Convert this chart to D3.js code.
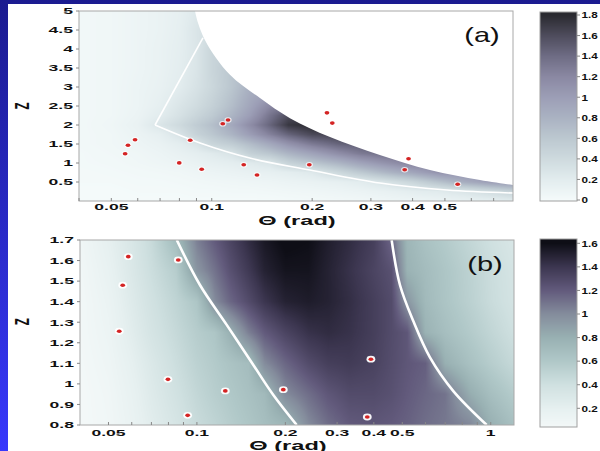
<!DOCTYPE html>
<html><head><meta charset="utf-8">
<script src="https://cdn.jsdelivr.net/npm/d3@7"></script>
<style>body{margin:0;background:#fff}svg{display:block}</style>
</head><body>
<svg id="chart" width="600" height="451"></svg>
<script>
// ---------- panel (a) ----------
const thetaA = [0.04,0.05,0.06,0.07,0.08,0.09,0.1,0.115,0.13,0.15,0.17,0.2,0.24,0.28,0.33,0.4,0.48,0.57,0.68,0.8];
const zA = [5,4.5,4,3.5,3,2.5,2.25,2,1.75,1.5,1.25,1,0.75,0.5,0.25,0];
const fieldA = [
  [0.03,0.05,0.08,0.11,0.15,0.24,0.32,0.38,0.42,0.45,0.50,0.55,0.60,0.60,0.60,0.60,0.60,0.60,0.60,0.60],
  [0.03,0.05,0.08,0.11,0.16,0.28,0.36,0.42,0.46,0.50,0.55,0.60,0.60,0.60,0.60,0.60,0.60,0.60,0.60,0.60],
  [0.03,0.05,0.08,0.12,0.17,0.27,0.45,0.52,0.55,0.58,0.60,0.60,0.60,0.60,0.60,0.60,0.60,0.60,0.60,0.60],
  [0.03,0.05,0.08,0.12,0.18,0.28,0.45,0.62,0.66,0.68,0.70,0.70,0.70,0.70,0.70,0.70,0.70,0.70,0.70,0.70],
  [0.03,0.05,0.09,0.13,0.20,0.31,0.43,0.62,0.82,0.88,0.90,0.90,0.90,0.90,0.90,0.90,0.90,0.90,0.90,0.90],
  [0.03,0.05,0.09,0.16,0.28,0.38,0.50,0.70,0.92,1.20,1.30,1.30,1.30,1.30,1.30,1.30,1.30,1.30,1.30,1.30],
  [0.03,0.05,0.10,0.20,0.32,0.45,0.57,0.78,1.00,1.35,1.60,1.60,1.60,1.60,1.60,1.60,1.60,1.60,1.60,1.60],
  [0.03,0.06,0.12,0.28,0.40,0.55,0.68,0.90,1.15,1.45,1.72,1.80,1.80,1.80,1.80,1.80,1.80,1.80,1.80,1.80],
  [0.03,0.05,0.10,0.16,0.30,0.48,0.60,0.78,1.00,1.25,1.45,1.62,1.65,1.65,1.65,1.65,1.65,1.65,1.65,1.65],
  [0.03,0.05,0.08,0.12,0.18,0.28,0.45,0.55,0.70,0.90,1.10,1.30,1.45,1.50,1.50,1.50,1.50,1.50,1.50,1.50],
  [0.02,0.04,0.06,0.09,0.13,0.17,0.22,0.30,0.50,0.62,0.78,0.95,1.15,1.30,1.38,1.38,1.38,1.38,1.38,1.38],
  [0.02,0.03,0.05,0.07,0.09,0.12,0.15,0.18,0.22,0.28,0.48,0.62,0.78,0.95,1.10,1.25,1.25,1.25,1.25,1.25],
  [0.01,0.02,0.03,0.04,0.05,0.07,0.09,0.11,0.13,0.15,0.18,0.24,0.42,0.58,0.75,0.92,1.10,1.12,1.12,1.12],
  [0.01,0.01,0.02,0.02,0.03,0.04,0.05,0.06,0.07,0.08,0.10,0.12,0.15,0.20,0.30,0.45,0.65,0.85,1.00,1.05],
  [0.00,0.00,0.01,0.01,0.01,0.02,0.02,0.03,0.03,0.04,0.05,0.06,0.08,0.10,0.13,0.18,0.22,0.28,0.38,0.50],
  [0.00,0.00,0.00,0.00,0.00,0.00,0.00,0.00,0.00,0.00,0.01,0.02,0.03,0.04,0.06,0.08,0.10,0.13,0.16,0.20]
];
// upper limit of the computed region (blank above it)
const edgeA = [[0.0891,5.0],[0.0954,4.24],[0.1134,3.32],[0.1395,2.71],[0.1716,2.18],[0.2262,1.684],[0.319,1.21],[0.451,0.816],[0.637,0.553],[0.8,0.42]];
const contourA = [[0.0676,2.0],[0.0922,1.526],[0.130,1.13],[0.197,0.816],[0.319,0.474],[0.507,0.289],[0.8,0.21]];
const contourSideA = [[0.0676,2.0],[0.0941,4.29]];
const pointsA = [[0.055,1.245],[0.0561,1.466],[0.0589,1.613],[0.0799,1.003],[0.0862,1.597],[0.0933,0.834],[0.1079,2.034],[0.1119,2.132],[0.1247,0.955],[0.1367,0.684],[0.1961,0.955],[0.2215,2.32],[0.2298,2.05],[0.3788,0.824],[0.389,1.113],[0.546,0.439]];
const yTicksA = [0.5,1,1.5,2,2.5,3,3.5,4,4.5,5];
const xTicksA = [0.04,0.05,0.06,0.07,0.08,0.09,0.1,0.2,0.3,0.4,0.5,0.6,0.7];
const xLabelsA = [0.05,0.1,0.2,0.3,0.4,0.5];
const barTicksA = [0,0.2,0.4,0.6,0.8,1,1.2,1.4,1.6,1.8];
const colorStopsA = [0,0.2,0.4,0.6,0.8,1.0,1.2,1.4,1.6,1.8];
const colorsA = ["#f4fafa","#e2ecee","#cedade","#bcc8d0","#aab2c2","#9c9eb6","#8a88a2","#6e6c84","#4e4c5c","#2a2a30"];

// ---------- panel (b) ----------
const thetaB = [0.04,0.05,0.06,0.07,0.085,0.1,0.115,0.13,0.15,0.17,0.2,0.24,0.28,0.33,0.4,0.46,0.52,0.6,0.7,0.85,1.0,1.2];
const zB = [1.7,1.55,1.4,1.25,1.1,0.95,0.8];
const fieldB = [
  [0.08,0.20,0.32,0.45,0.70,1.05,1.20,1.32,1.45,1.55,1.62,1.60,1.52,1.45,1.35,1.15,0.75,0.65,0.58,0.48,0.40,0.32],
  [0.06,0.17,0.30,0.42,0.56,0.95,1.10,1.25,1.38,1.50,1.57,1.57,1.50,1.42,1.32,1.25,0.78,0.70,0.62,0.52,0.43,0.35],
  [0.05,0.14,0.27,0.38,0.50,0.62,1.00,1.15,1.28,1.40,1.50,1.53,1.50,1.44,1.35,1.28,0.95,0.72,0.63,0.53,0.44,0.36],
  [0.05,0.12,0.24,0.35,0.46,0.56,0.62,0.80,1.05,1.20,1.32,1.42,1.45,1.42,1.35,1.28,1.22,0.78,0.68,0.58,0.49,0.40],
  [0.04,0.10,0.20,0.30,0.42,0.52,0.58,0.64,0.70,1.00,1.15,1.28,1.35,1.37,1.33,1.27,1.22,1.18,0.80,0.66,0.56,0.46],
  [0.03,0.08,0.17,0.27,0.38,0.48,0.55,0.60,0.66,0.72,1.00,1.12,1.22,1.28,1.28,1.25,1.20,1.15,1.10,0.82,0.68,0.57],
  [0.03,0.07,0.15,0.24,0.34,0.44,0.50,0.56,0.62,0.68,0.74,1.00,1.12,1.20,1.22,1.20,1.17,1.12,1.08,1.02,0.80,0.67]
];
const contourB1 = [[0.0854,1.7],[0.1024,1.481],[0.1263,1.287],[0.1556,1.092],[0.182,0.946],[0.2186,0.8]];
const contourB2 = [[0.46,1.7],[0.491,1.481],[0.545,1.306],[0.621,1.129],[0.746,0.965],[0.969,0.8]];
const pointsB = [[0.0584,1.619],[0.0864,1.603],[0.0559,1.48],[0.0544,1.256],[0.0797,1.022],[0.1249,0.966],[0.093,0.847],[0.1968,0.972],[0.391,1.12],[0.38,0.839]];
const yTicksB = [0.8,0.9,1,1.1,1.2,1.3,1.4,1.5,1.6,1.7];
const xTicksB = [0.05,0.06,0.07,0.08,0.09,0.1,0.2,0.3,0.4,0.5,0.6,0.7,0.8,0.9,1];
const xLabelsB = [0.05,0.1,0.2,0.3,0.4,0.5,1];
const barTicksB = [0.2,0.4,0.6,0.8,1,1.2,1.4,1.6];
const colorStopsB = [0,0.2,0.4,0.6,0.8,1.0,1.2,1.4,1.6];
const colorsB = ["#f6fafa","#e6f0f0","#cfe0e0","#b0c8c8","#98b0b2","#848c9c","#625a7c","#3c3650","#0e0e16"];

// ---------- drawing ----------
const svg = d3.select("#chart");
const defs = svg.append("defs");
const FONT = "'Liberation Sans', Arial, sans-serif";
const SX = 1.95;   // horizontal stretch of the small lettering
const SXBAR = 1.3; // narrower stretch so the colour-bar labels fit the page

const bg = defs.append("linearGradient").attr("id","bg").attr("x1",0).attr("y1",0).attr("x2",0).attr("y2",1);
bg.append("stop").attr("offset","0%").attr("stop-color","#1b1b90");
bg.append("stop").attr("offset","100%").attr("stop-color","#3838fc");
svg.append("rect").attr("width",600).attr("height",451).attr("fill","url(#bg)");
svg.append("rect").attr("x",8).attr("y",4).attr("width",592).attr("height",447).attr("fill","#fff");

function fieldImage(thetas, zs, grid, x, y, color) {
  const [x0, x1] = x.range(), [yb, yt] = y.range();
  const w = Math.round(x1 - x0), h = Math.round(yb - yt);
  const cv = document.createElement("canvas");
  cv.width = w; cv.height = h;
  const ctx = cv.getContext("2d");
  const img = ctx.createImageData(w, h);
  const lt = thetas.map(Math.log);
  const [vmin, vmax] = d3.extent(color.domain());
  const lut = d3.range(512).map(k => d3.rgb(color(vmin + (vmax - vmin) * k / 511)));
  for (let py = 0; py < h; py++) {
    const z = y.invert(yt + py + 0.5);
    let j = 0;
    while (j < zs.length - 2 && z < zs[j + 1]) j++;
    const v = Math.max(0, Math.min(1, (zs[j] - z) / (zs[j] - zs[j + 1])));
    for (let px = 0; px < w; px++) {
      const t = Math.log(x.invert(x0 + px + 0.5));
      let i = 0;
      while (i < lt.length - 2 && t > lt[i + 1]) i++;
      const u = Math.max(0, Math.min(1, (t - lt[i]) / (lt[i + 1] - lt[i])));
      const val = (1 - u) * (1 - v) * grid[j][i] + u * (1 - v) * grid[j][i + 1] +
                  (1 - u) * v * grid[j + 1][i] + u * v * grid[j + 1][i + 1];
      const k = Math.max(0, Math.min(511, Math.round((val - vmin) / (vmax - vmin) * 511)));
      const c = lut[k], o = (py * w + px) * 4;
      img.data[o] = c.r; img.data[o + 1] = c.g; img.data[o + 2] = c.b; img.data[o + 3] = 255;
    }
  }
  ctx.putImageData(img, 0, 0);
  return {href: cv.toDataURL(), x: x0, y: yt, w, h};
}

function stretchedText(g, x, y, txt, size, anchor, weight, sx) {
  return g.append("text")
    .attr("transform", `translate(${x},${y}) scale(${sx},1)`)
    .attr("text-anchor", anchor)
    .attr("font-family", FONT).attr("font-size", size).attr("font-weight", weight)
    .attr("fill", "#111").text(txt);
}

function panel(cfg) {
  const {x, y, color, thetas, zs, grid} = cfg;
  const g = svg.append("g");
  const im = fieldImage(thetas, zs, grid, x, y, color);
  g.append("image").attr("href", im.href).attr("x", im.x).attr("y", im.y)
    .attr("width", im.w).attr("height", im.h).attr("preserveAspectRatio", "none");

  const [x0, x1] = x.range(), [yb, yt] = y.range();
  const clipId = "clip" + cfg.id;
  defs.append("clipPath").attr("id", clipId).append("rect")
    .attr("x", x0).attr("y", yt).attr("width", x1 - x0).attr("height", yb - yt);
  const plot = g.append("g").attr("clip-path", `url(#${clipId})`);

  if (cfg.edge) {
    const line = d3.line().x(d => x(d[0])).y(d => y(d[1])).curve(d3.curveCatmullRom);
    const top = y.domain()[1], right = x.domain()[1];
    const pts = [[cfg.edge[0][0], top + 0.3]].concat(cfg.edge);
    plot.append("path")
      .attr("d", line(pts) + `L${x(right) + 2},${y(cfg.edge[cfg.edge.length - 1][1])}L${x(right) + 2},${y(top) - 2}Z`)
      .attr("fill", "#fff");
  }

  const cline = d3.line().x(d => x(d[0])).y(d => y(d[1])).curve(d3.curveCatmullRom);
  cfg.contours.forEach(c => {
    plot.append("path").attr("d", cline(c)).attr("fill", "none")
      .attr("stroke", "#fff").attr("stroke-width", cfg.contourWidth).attr("stroke-linejoin", "round");
  });

  const pts = plot.append("g");
  pts.selectAll("ellipse.halo").data(cfg.points).join("ellipse").attr("class", "halo")
    .attr("cx", d => x(d[0])).attr("cy", d => y(d[1]))
    .attr("rx", cfg.halo[0]).attr("ry", cfg.halo[1]).attr("fill", "#fff").attr("fill-opacity", cfg.haloOpacity);
  pts.selectAll("ellipse.dot").data(cfg.points).join("ellipse").attr("class", "dot")
    .attr("cx", d => x(d[0])).attr("cy", d => y(d[1]))
    .attr("rx", 2.4).attr("ry", 1.8).attr("fill", "#d42424");

  // frame
  g.append("rect").attr("x", x0).attr("y", yt).attr("width", x1 - x0).attr("height", yb - yt)
    .attr("fill", "none").attr("stroke", "#a8a8a8").attr("stroke-width", 1);

  // x ticks and labels
  cfg.xTicks.forEach(t => {
    g.append("line").attr("x1", x(t)).attr("x2", x(t)).attr("y1", yb).attr("y2", yb - 3)
      .attr("stroke", "#888").attr("stroke-width", 1);
  });
  cfg.xLabels.forEach(t => {
    stretchedText(g, x(t), yb + cfg.xLabelDy, String(t), 9, "middle", "bold", SX);
  });
  // y ticks and labels
  cfg.yTicks.forEach(t => {
    g.append("line").attr("x1", x0).attr("x2", x0 - 3).attr("y1", y(t)).attr("y2", y(t))
      .attr("stroke", "#888").attr("stroke-width", 1);
    stretchedText(g, x0 - 6, y(t) + 3.3, String(t), 9, "end", "bold", SX);
  });

  // axis titles
  stretchedText(g, cfg.xTitle[0], cfg.xTitle[1], "Θ (rad)", 13.5, "middle", "bold", 1.75);
  g.append("text")
    .attr("transform", `translate(${cfg.zTitle[0]},${cfg.zTitle[1]}) scale(1.7,1) rotate(-90)`)
    .attr("text-anchor", "middle").attr("dominant-baseline", "central")
    .attr("font-family", FONT).attr("font-size", 11.5).attr("font-weight", "bold")
    .attr("fill", "#111").text("Z");
  // panel tag
  stretchedText(g, cfg.tag[0], cfg.tag[1], cfg.tagText, 21, "middle", "normal", 1.38);

  // colour bar
  const cb = cfg.bar;
  for (let py = cb.top; py < cb.bottom; py++) {
    g.append("rect").attr("x", cb.left).attr("y", py).attr("width", cb.right - cb.left).attr("height", 1.05)
      .attr("fill", color(cb.scale.invert(py + 0.5)));
  }
  g.append("rect").attr("x", cb.left).attr("y", cb.top).attr("width", cb.right - cb.left)
    .attr("height", cb.bottom - cb.top).attr("fill", "none").attr("stroke", "#a0a0a0");
  cb.ticks.forEach(t => {
    g.append("line").attr("x1", cb.right).attr("x2", cb.right + 3)
      .attr("y1", cb.scale(t)).attr("y2", cb.scale(t)).attr("stroke", "#888");
    stretchedText(g, cb.right + 4.5, cb.scale(t) + 3.3, String(t), 9, "start", "bold", SXBAR);
  });
}

const colorA = d3.scaleLinear().domain(colorStopsA).range(colorsA).clamp(true);
const colorB = d3.scaleLinear().domain(colorStopsB).range(colorsB).clamp(true);

panel({
  id: "A",
  x: d3.scaleLog().domain([0.04, 0.8]).range([79, 513]),
  y: d3.scaleLinear().domain([0, 5]).range([201, 11]),
  color: colorA, thetas: thetaA, zs: zA, grid: fieldA,
  edge: edgeA, contours: [contourA, contourSideA], contourWidth: 1.6,
  points: pointsA, halo: [3.6, 2.8], haloOpacity: 0.75,
  xTicks: xTicksA, xLabels: xLabelsA, yTicks: yTicksA, xLabelDy: 9,
  xTitle: [297, 224.5], zTitle: [21.7, 106], tag: [482, 41.5], tagText: "(a)",
  bar: {left: 540, right: 577, top: 12, bottom: 201,
        scale: d3.scaleLinear().domain([0, 1.8]).range([200, 15]), ticks: barTicksA}
});

panel({
  id: "B",
  x: d3.scaleLog().domain([0.04, 1.2]).range([80, 514]),
  y: d3.scaleLinear().domain([0.8, 1.7]).range([425, 240]),
  color: colorB, thetas: thetaB, zs: zB, grid: fieldB,
  edge: null, contours: [contourB1, contourB2], contourWidth: 2.6,
  points: pointsB, halo: [4.4, 3.4], haloOpacity: 0.95,
  xTicks: xTicksB, xLabels: xLabelsB, yTicks: yTicksB, xLabelDy: 11,
  xTitle: [288, 449.5], zTitle: [21.7, 321.7], tag: [485, 270.5], tagText: "(b)",
  bar: {left: 540, right: 577, top: 239, bottom: 427,
        scale: d3.scaleLinear().domain([0.2, 1.6]).range([408.3, 243.3]), ticks: barTicksB}
});
</script>
</body></html>
